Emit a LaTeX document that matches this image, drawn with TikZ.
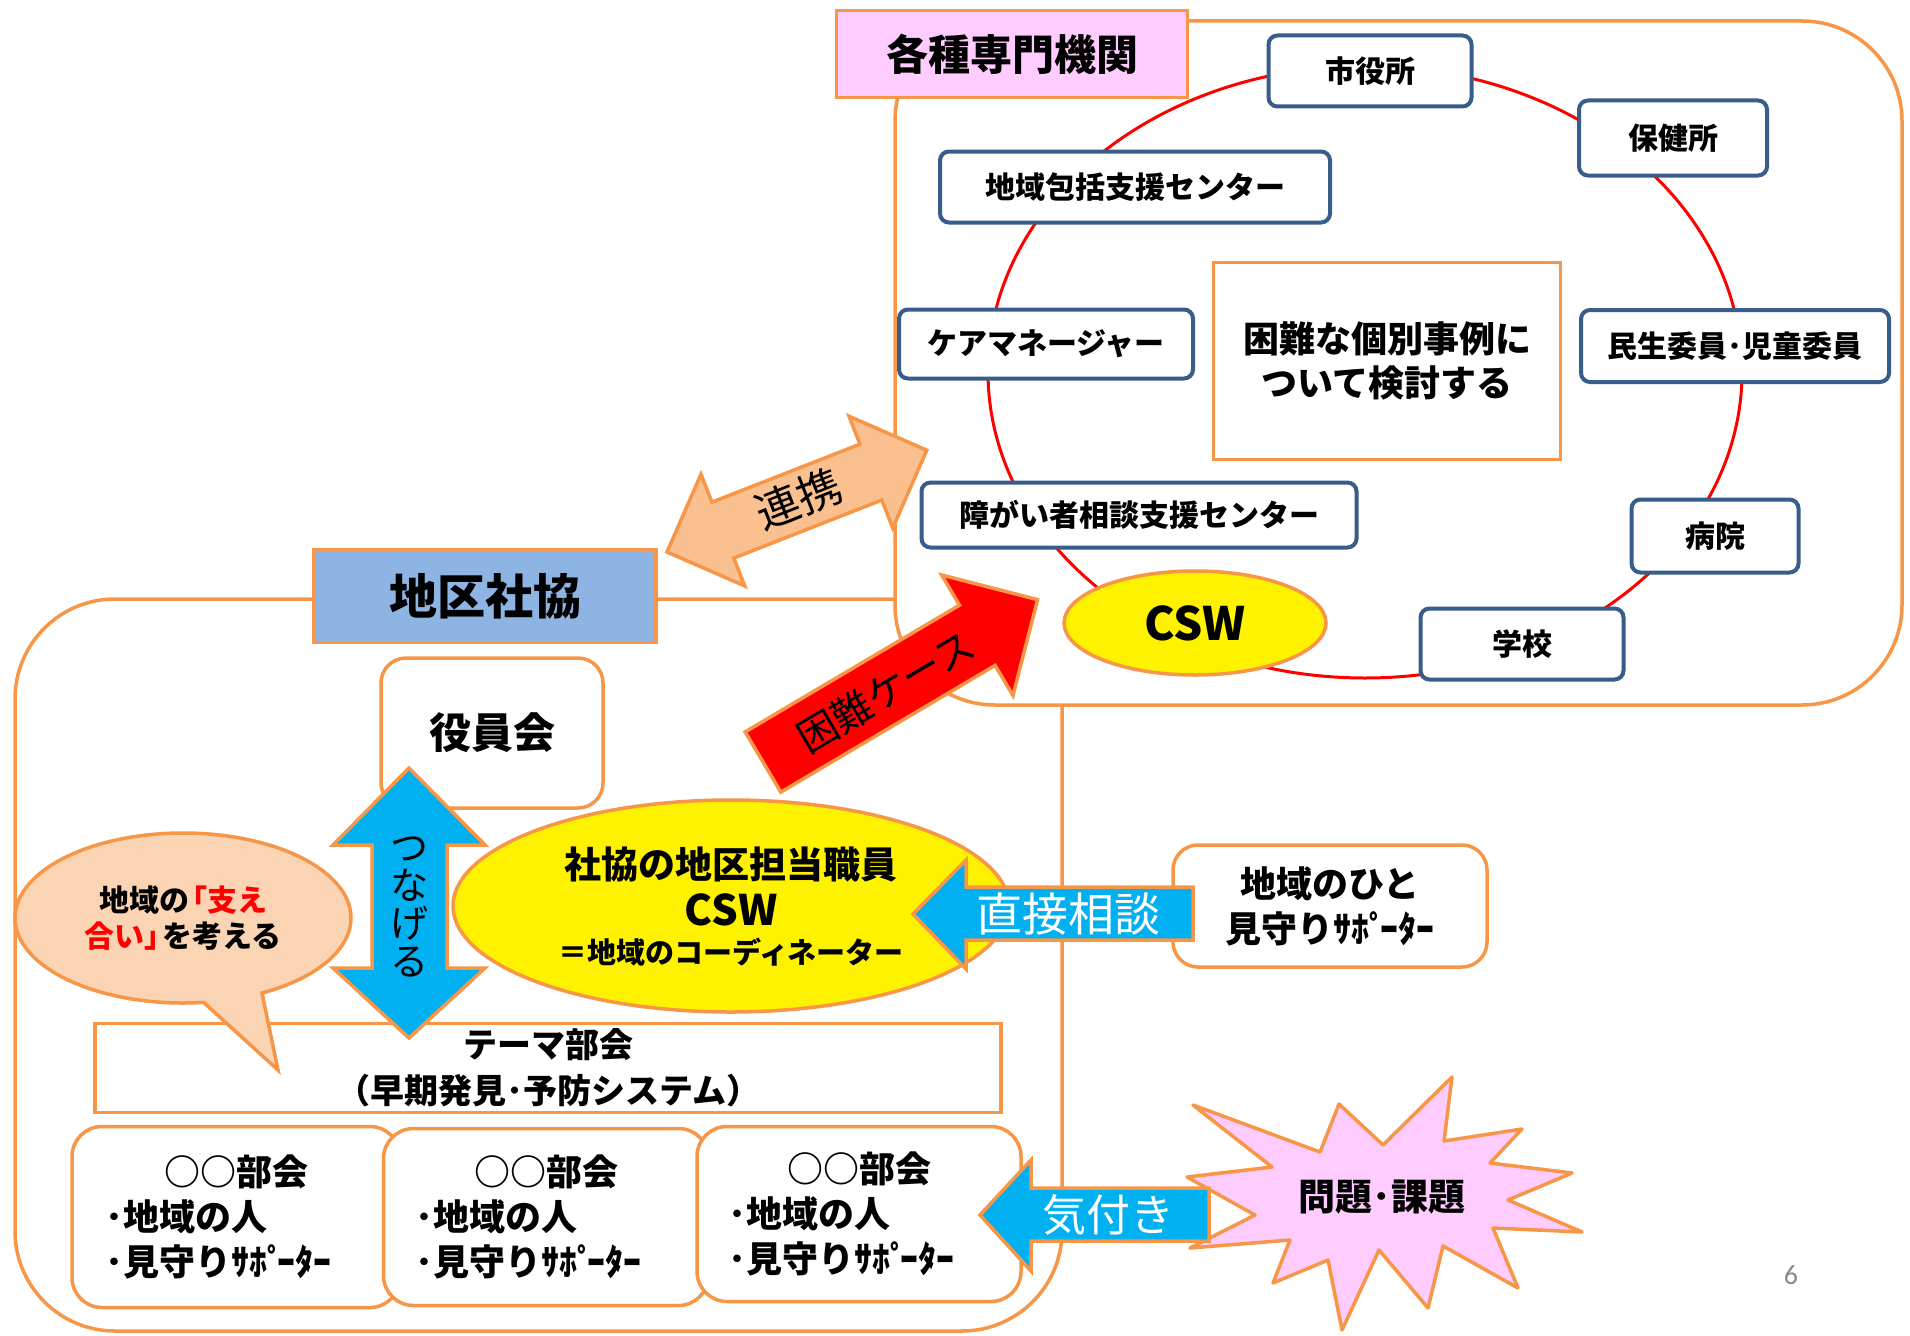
\documentclass[tikz,border=0pt]{standalone}
\usepackage{fontspec}
\newfontfamily\jp{Noto Sans CJK JP}
\newfontfamily\pagefont{Carlito}
\usetikzlibrary{shapes.geometric,shapes.callouts}

\definecolor{borange}{HTML}{F79646}
\definecolor{bblue}{HTML}{385D8A}
\definecolor{lpink}{HTML}{FFCCFF}
\definecolor{skyfill}{HTML}{8EB4E3}
\definecolor{peach}{HTML}{FBD4B4}
\definecolor{apricot}{HTML}{FAC090}
\definecolor{cyanfill}{HTML}{00B0F0}
\definecolor{pagegray}{HTML}{898989}

\newcommand{\supporter}{見守りｻﾎﾟ\kern-.22emｰﾀｰ}

\tikzset{%
          group frame/.style={
            rectangle,
            draw=borange,
            line width=3.5pt,
            fill=white,
            rounded corners=100pt
          },
          agency/.style={
            rectangle,
            draw=bblue,
            line width=4pt,
            fill=white,
            rounded corners=9pt,
            inner sep=0pt,
            font=\jp\bfseries\fontsize{30}{36}\selectfont
          },
          orange box/.style={
            rectangle,
            draw=borange,
            line width=3.5pt,
            fill=white,
            inner sep=0pt
          },
          label box/.style={
            orange box,
            font=\jp\bfseries\fontsize{42}{50}\selectfont
          },
          bukai/.style={
            orange box,
            rounded corners=30pt,
            text width=262pt,
            align=left,
            font=\jp\bfseries\fontsize{36}{45}\selectfont
          },
          block arrow/.style={
            draw=borange,
            line width=3.5pt,
            line join=miter
          },
          arrow text/.style={
            inner sep=0pt,
            font=\jp\fontsize{44}{50}\selectfont
          },
        }

\begin{document}
\begin{tikzpicture}[x=1pt, y=-1pt]
        \useasboundingbox (0,0) rectangle (1910,1335);

        \node [group frame, minimum width=1047, minimum height=732] (district-frame) at (538.5,965) {};
        \node [group frame, minimum width=1007, minimum height=684] (agency-frame) at (1398.5,363) {};

        \node [ellipse, draw=red, line width=3pt, minimum width=754, minimum height=612] (ring) at (1365,372) {};

        \node [agency, minimum width=203, minimum height=71] (agency-city) at (1370,71) {市役所};
        \node [agency, minimum width=188, minimum height=75] (agency-health) at (1673,138) {保健所};
        \node [agency, minimum width=390, minimum height=71] (agency-support) at (1135,187) {地域包括支援センター};
        \node [agency, minimum width=294, minimum height=69] (agency-care) at (1046,344) {ケアマネージャー};
        \node [agency, minimum width=308, minimum height=72] (agency-welfare) at (1735,346) {民生委員･児童委員};
        \node [agency, minimum width=435, minimum height=65] (agency-disability) at (1139,515) {障がい者相談支援センター};
        \node [agency, minimum width=167, minimum height=73] (agency-hospital) at (1715,536) {病院};
        \node [agency, minimum width=203, minimum height=71] (agency-school) at (1522,644) {学校};

        \node [orange box, minimum width=347, minimum height=197, align=center,
               font=\jp\bfseries\fontsize{36}{44}\selectfont] (topic) at (1387,361) {困難な個別事例に\\ついて検討する};
        \node [ellipse, draw=borange, line width=3.5pt, fill=yellow, minimum width=262, minimum height=104,
               inner sep=0pt, font=\jp\bfseries\fontsize{46}{50}\selectfont] (csw-agency) at (1195,623) {CSW};
        \node [label box, fill=lpink, minimum width=351, minimum height=87] (agencies) at (1012,54) {各種専門機関};

        \node [label box, fill=skyfill, minimum width=342, minimum height=93,
               font=\jp\bfseries\fontsize{48}{56}\selectfont] (district) at (485,596) {地区社協};
        \node [label box, rounded corners=25pt, minimum width=222, minimum height=150] (board) at (492,733) {役員会};

        \node [orange box, minimum width=906, minimum height=89, align=center,
               font=\jp\bfseries\fontsize{34}{46}\selectfont] (theme) at (548,1068) {テーマ部会\\（早期発見･予防システム）};

        \node [bukai, minimum width=328, minimum height=181] (bukai-1) at (236,1217) {\makebox[\linewidth]{○○部会}\\･地域の人\\･\supporter};
        \node [bukai, minimum width=325, minimum height=177] (bukai-2) at (546,1217) {\makebox[\linewidth]{○○部会}\\･地域の人\\･\supporter};
        \node [bukai, minimum width=324, minimum height=175] (bukai-3) at (859,1214) {\makebox[\linewidth]{○○部会}\\･地域の人\\･\supporter};

        \node [ellipse, draw=borange, line width=3.5pt, fill=yellow, minimum width=556, minimum height=212] (csw) at (731,906) {};
        \node [font=\jp\bfseries\fontsize{37}{44}\selectfont] (csw-title) at (731,865) {社協の地区担当職員};
        \node [font=\jp\bfseries\fontsize{42}{44}\selectfont] (csw-abbr) at (731,910) {CSW};
        \node [font=\jp\bfseries\fontsize{29}{44}\selectfont] (csw-role) at (731,952) {＝地域のコーディネーター};

        \node [ellipse callout, draw=borange, line width=3.5pt, fill=peach, minimum width=336, minimum height=170,
               callout absolute pointer={(278,1070)}, callout pointer arc=21, inner sep=0pt, align=center,
               font=\jp\bfseries\fontsize{30}{36}\selectfont] (bubble) at (183,918)
               {地域の\kern-.4em{\color{red}「支え}\\{\color{red}合い」}\kern-.4emを考える};

        \draw [block arrow, fill=cyanfill] (409,768) -- (485,845) -- (447,845) -- (447,968) -- (485,968)
              -- (409,1038) -- (333,968) -- (372,968) -- (372,845) -- (333,845) -- cycle;
        \node [arrow text, align=center, font=\jp\fontsize{38}{38}\selectfont] (connect) at (409,907) {つ\\な\\げ\\る};

        \node [orange box, rounded corners=25pt, minimum width=314, minimum height=122, align=center,
               font=\jp\bfseries\fontsize{36}{45}\selectfont] (neighbours) at (1330,906) {地域のひと\\\supporter};

        \draw [block arrow, fill=lpink, line join=round] (1187,1177) -- (1272,1167) -- (1193,1105) -- (1320,1152)
              -- (1339,1104) -- (1383,1145) -- (1452,1077) -- (1444,1141) -- (1522,1129) -- (1490,1163)
              -- (1572,1173) -- (1508,1200) -- (1582,1232) -- (1493,1228) -- (1518,1288) -- (1443,1246)
              -- (1428,1308) -- (1379,1250) -- (1342,1330) -- (1328,1260) -- (1273,1283) -- (1290,1240)
              -- (1190,1248) -- (1255,1215) -- cycle;
        \node [font=\jp\bfseries\fontsize{37}{44}\selectfont] (issues) at (1382,1197) {問題･課題};

        \draw [block arrow, fill=cyanfill] (913,914) -- (966,860) -- (966,887) -- (1193,887) -- (1193,940)
              -- (966,940) -- (966,969) -- cycle;
        \node [arrow text, text=white, font=\jp\fontsize{46}{50}\selectfont] (consult) at (1068,914) {直接相談};

        \draw [block arrow, fill=cyanfill] (980,1215) -- (1031,1160) -- (1031,1188) -- (1209,1188) -- (1209,1241)
              -- (1031,1241) -- (1031,1271) -- cycle;
        \node [arrow text, text=white] (notice) at (1108,1215) {気付き};

        \begin{scope}[shift={(667,552)}, rotate=21.4]
          \draw [block arrow, fill=apricot] (0,0) -- (60,-60) -- (60,-30) -- (219,-30) -- (219,-60) -- (279,0)
                -- (219,60) -- (219,30) -- (60,30) -- (60,60) -- cycle;
        \end{scope}
        \node [arrow text, rotate=21.4] (cooperate) at (798,499) {連携};

        \begin{scope}[shift={(763,762)}, rotate=30.6]
          \draw [block arrow, fill=red] (0,-35) -- (249,-35) -- (249,-70) -- (319,0) -- (249,70) -- (249,35)
                -- (0,35) -- cycle;
        \end{scope}
        \node [arrow text, rotate=30.6, font=\jp\fontsize{40}{44}\selectfont] (hard-case) at (886,691) {困難ケース};

        \node [font=\pagefont\fontsize{28}{30}\selectfont, text=pagegray] (page-number) at (1791,1275) {6};

        \end{tikzpicture}
\end{document}
